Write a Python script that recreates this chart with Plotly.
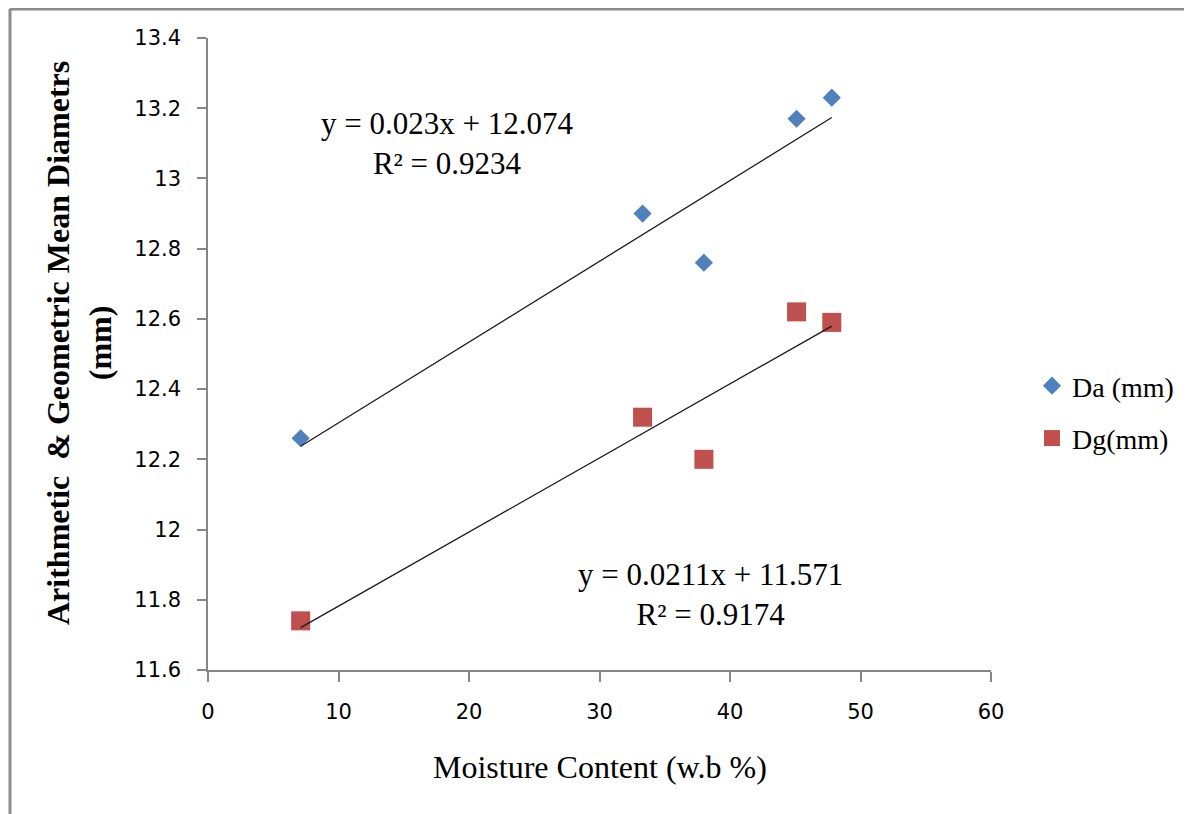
import plotly.graph_objects as go
import numpy as np

moisture = [7.1, 33.3, 38.0, 45.1, 47.8]
da_mm = [12.26, 12.90, 12.76, 13.17, 13.23]
dg_mm = [11.74, 12.32, 12.20, 12.62, 12.59]

da_fit = (0.023, 12.074)
dg_fit = (0.0211, 11.571)

x_ticks = [0, 10, 20, 30, 40, 50, 60]
y_ticks = [11.6, 11.8, 12.0, 12.2, 12.4, 12.6, 12.8, 13.0, 13.2, 13.4]
y_tick_labels = ["11.6", "11.8", "12", "12.2", "12.4", "12.6", "12.8", "13", "13.2", "13.4"]

BLUE = "#4F81BD"
RED = "#C0504D"
AXIS = "#868686"
SERIF = "Liberation Serif, Times New Roman, serif"

# page pixel -> paper coordinate helpers (plot area: x 208..991, y 38..670 on page)
def px(xp):
    return (xp - 208) / 783

def py(yp):
    return (670 - yp) / 632

fig = go.Figure()

fig.add_trace(go.Scatter(
    x=moisture, y=da_mm, mode="markers", name="Da (mm)",
    legendgroup="da",
    marker=dict(symbol="diamond", size=14, color=BLUE),
))
fig.add_trace(go.Scatter(
    x=moisture, y=dg_mm, mode="markers", name="Dg(mm)",
    legendgroup="dg",
    marker=dict(symbol="square", size=19, color=RED),
))

xr = np.array([min(moisture), max(moisture)])
for (m, b) in (da_fit, dg_fit):
    fig.add_trace(go.Scatter(
        x=xr, y=m * xr + b, mode="lines", showlegend=False,
        line=dict(color="#1a1a1a", width=1.3), hoverinfo="skip",
    ))

fig.add_annotation(
    x=18.3, y=13.10, xref="x", yref="y", showarrow=False,
    text="y = 0.023x + 12.074<br>R² = 0.9234",
    font=dict(family=SERIF, size=31, color="#000"), align="center",
)
fig.add_annotation(
    x=38.5, y=11.816, xref="x", yref="y", showarrow=False,
    text="y = 0.0211x + 11.571<br>R² = 0.9174",
    font=dict(family=SERIF, size=31, color="#000"), align="center",
)

# axis titles
fig.add_annotation(
    x=px(79), y=py(343), xref="paper", yref="paper", showarrow=False,
    text="<b>Arithmetic  &amp; Geometric Mean Diametrs</b><br><b>(mm)</b>",
    textangle=-90, xanchor="center", yanchor="middle",
    font=dict(family=SERIF, size=32, color="#000"), align="center",
)
fig.add_annotation(
    x=0.5, y=py(767), xref="paper", yref="paper", showarrow=False,
    text="Moisture Content (w.b %)", xanchor="center", yanchor="middle",
    font=dict(family=SERIF, size=32, color="#000"),
)

# outer chart frame (left and top edges visible)
fig.add_shape(type="line", xref="paper", yref="paper",
              x0=px(10), x1=px(10), y0=py(9), y1=py(830),
              line=dict(color="#8c8c8c", width=3))
fig.add_shape(type="line", xref="paper", yref="paper",
              x0=px(10), x1=px(1210), y0=py(9), y1=py(9),
              line=dict(color="#8c8c8c", width=3))

fig.update_layout(
    width=1192, height=814,
    margin=dict(l=200, r=209, t=30, b=152),
    paper_bgcolor="white", plot_bgcolor="white",
    showlegend=True,
    legend=dict(
        x=px(1032), y=py(412), xanchor="left", yanchor="middle",
        font=dict(family=SERIF, size=28, color="#000"),
        traceorder="grouped", tracegroupgap=13,
        itemwidth=30, bgcolor="rgba(0,0,0,0)",
    ),
    xaxis=dict(
        range=[0, 60], tickvals=x_ticks, showgrid=False, zeroline=False,
        showline=True, linecolor=AXIS, linewidth=1.5,
        ticks="outside", ticklen=10, tickcolor=AXIS, tickwidth=1.5,
        tickfont=dict(family="DejaVu Sans", size=21, color="#000"),
        ticklabelstandoff=12,
    ),
    yaxis=dict(
        range=[11.6, 13.4], tickvals=y_ticks, ticktext=y_tick_labels,
        showgrid=False, zeroline=False,
        showline=True, linecolor=AXIS, linewidth=1.5,
        ticks="outside", ticklen=9, tickcolor=AXIS, tickwidth=1.5,
        tickfont=dict(family="DejaVu Sans", size=21, color="#000"),
        ticklabelstandoff=12,
    ),
)

fig.write_html("out.html")
